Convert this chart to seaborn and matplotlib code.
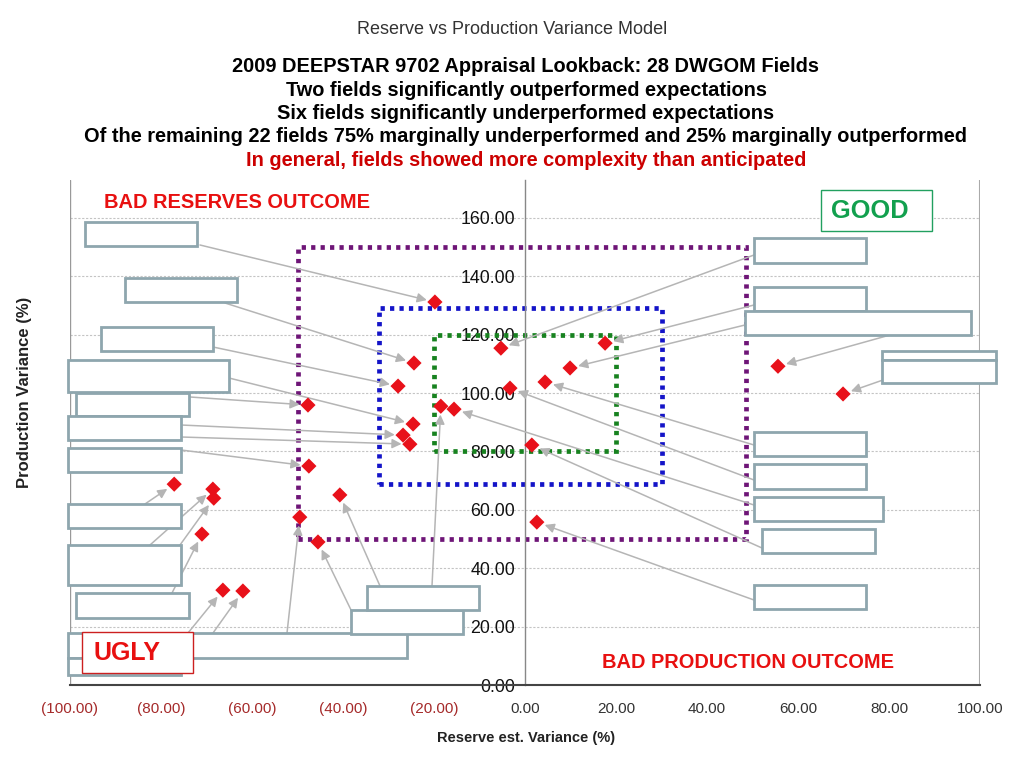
import matplotlib
matplotlib.use("Agg")
import matplotlib.pyplot as plt
from matplotlib.patches import Rectangle
import seaborn as sns
import pandas as pd

# ---------------- data ----------------
reserve_var = [-19.8, -24.4, -27.9, -24.6, -26.8, -25.3, -18.5, -15.6, -5.3, -3.3,
               1.5, 4.4, 9.9, 17.6, 2.6, 55.6, 69.9, -47.7, -47.5, -40.7,
               -49.5, -45.5, -77.1, -68.6, -68.4, -71.0, -66.4, -62.0]
prod_var = [131.2, 110.3, 102.4, 89.4, 85.6, 82.5, 95.5, 94.5, 115.4, 101.7,
            82.2, 103.8, 108.6, 117.1, 55.8, 109.2, 99.7, 95.9, 75.0, 65.1,
            57.5, 49.0, 68.8, 67.1, 64.0, 51.7, 32.5, 32.2]
x_ticks = [-100, -80, -60, -40, -20, 0, 20, 40, 60, 80, 100]
y_ticks = [0, 20, 40, 60, 80, 100, 120, 140, 160]
zones = {"purple": (-50, 48.5, 50, 150), "blue": (-32, 30, 69, 129), "green": (-20, 20, 80, 120)}

title_main = "Reserve vs Production Variance Model"
subtitle_lines = ["2009 DEEPSTAR 9702 Appraisal Lookback: 28 DWGOM Fields",
                  "Two fields significantly outperformed expectations",
                  "Six fields significantly underperformed expectations",
                  "Of the remaining 22 fields 75% marginally underperformed and 25% marginally outperformed"]
subtitle_red = "In general, fields showed more complexity than anticipated"

# ---------------- layout (figure pixels, top-left origin) ----------------
label_boxes = [(85, 222, 197, 246), (125, 278, 237, 302), (101, 327, 213, 351),
               (68, 360, 229, 392), (76, 393, 189, 416), (68, 416, 181, 440),
               (68, 448, 181, 472), (68, 504, 181, 528), (68, 545, 181, 585),
               (76, 593, 189, 618), (68, 633, 407, 658), (68, 658, 181, 675),
               (351, 610, 463, 634), (367, 586, 479, 610),
               (754, 238, 866, 263), (754, 287, 866, 311), (745, 311, 971, 335),
               (882, 351, 996, 360), (882, 360, 996, 383),
               (754, 432, 866, 456), (754, 464, 866, 489), (754, 497, 883, 521),
               (762, 529, 875, 553), (754, 585, 866, 609)]
# (start x px, start y px, point index)
leaders = [(200, 245, 0), (225, 303, 1), (213, 347, 2), (229, 378, 3), (190, 397, 17),
           (181, 425, 4), (181, 437, 5), (181, 450, 18), (145, 504, 22), (150, 545, 23),
           (180, 545, 24), (172, 593, 25), (188, 633, 26), (213, 633, 27), (287, 633, 20),
           (352, 612, 21), (380, 586, 19), (432, 586, 6), (754, 505, 7), (754, 255, 8),
           (754, 480, 9), (762, 548, 10), (754, 445, 11), (745, 325, 12), (754, 305, 13),
           (754, 600, 14), (890, 335, 15), (883, 380, 16)]

W, H = 1024, 768
BOLD = ["Liberation Sans", "DejaVu Sans"]
sns.set_style("white")
plt.rcParams["font.family"] = ["Liberation Sans Narrow", "Liberation Sans", "DejaVu Sans"]

fig = plt.figure(figsize=(10.24, 7.68), dpi=100)
ax = fig.add_axes([70 / W, 1 - 685 / H, 910 / W, 505 / H])

df = pd.DataFrame({"reserve": reserve_var, "production": prod_var})

# grid
for yv in y_ticks[1:]:
    ax.axhline(yv, color="#c4c4c4", lw=0.8, ls=(0, (2, 1.5)), zorder=0)

# zones
zone_colors = {"purple": "#6e1577", "blue": "#1414c8", "green": "#17821f"}
for name, (x0, x1, y0, y1) in zones.items():
    ax.add_patch(Rectangle((x0, y0), x1 - x0, y1 - y0, fill=False,
                           edgecolor=zone_colors[name], lw=3.4,
                           ls=(0, (0.9, 1.1)), zorder=2))

# leaders
for sx, sy, idx in leaders:
    ax.annotate("", xy=(reserve_var[idx], prod_var[idx]), xycoords="data",
                xytext=(sx, H - sy), textcoords="figure pixels",
                arrowprops=dict(arrowstyle="-|>", color="#b5b5b5", lw=1.1,
                                mutation_scale=14, shrinkA=0, shrinkB=6),
                annotation_clip=False, zorder=3)

sns.scatterplot(data=df, x="reserve", y="production", marker="D", color="#e8111a",
                s=60, edgecolor="none", ax=ax, zorder=4, legend=False)

ax.set_xlim(-100, 100)
ax.set_ylim(0, 173)

# spines / axes
for s in ["top", "right"]:
    ax.spines[s].set_visible(False)
ax.spines["left"].set_position(("data", 0))
ax.spines["left"].set_color("#888888")
ax.spines["left"].set_linewidth(1.0)
ax.spines["bottom"].set_color("#444444")
ax.spines["bottom"].set_linewidth(1.5)
ax.axvline(-100, color="#999999", lw=1.0, zorder=1)
ax.axvline(100, color="#aaaaaa", lw=1.5, zorder=1)

ax.set_xticks(x_ticks)
ax.set_xticklabels([f"({abs(v):.2f})" if v < 0 else f"{v:.2f}" for v in x_ticks])
for lbl, v in zip(ax.get_xticklabels(), x_ticks):
    lbl.set_color("#a52a2a" if v < 0 else "#333333")
ax.set_yticks(y_ticks)
ax.set_yticklabels([f"{v:.2f}" for v in y_ticks])
ax.tick_params(axis="x", direction="out", length=6, width=1, color="#444444",
               labelsize=11, pad=6)
ax.tick_params(axis="y", direction="out", length=4, width=1, color="#666666",
               labelsize=12.8, labelcolor="#111111", pad=3)
ax.set_xlabel("")
ax.set_ylabel("")

# label boxes
for (l, t, r, b) in label_boxes:
    fig.add_artist(Rectangle((l / W, 1 - b / H), (r - l) / W, (b - t) / H,
                             transform=fig.transFigure, facecolor="white",
                             edgecolor="#8ea6ae", lw=2.0, zorder=5))

# GOOD / UGLY boxes
fig.add_artist(Rectangle((821 / W, 1 - 231 / H), 111 / W, 41 / H, transform=fig.transFigure,
                         facecolor="white", edgecolor="#22a060", lw=1.0, zorder=6))
fig.text(870 / W, 1 - 211 / H, "GOOD", color="#12a04e", fontsize=18.3, fontweight="bold",
         family=BOLD, ha="center", va="center", zorder=7)
fig.add_artist(Rectangle((82 / W, 1 - 673 / H), 111 / W, 41 / H, transform=fig.transFigure,
                         facecolor="white", edgecolor="#cc2020", lw=1.0, zorder=6))
fig.text(127 / W, 1 - 653 / H, "UGLY", color="#e81010", fontsize=18, fontweight="bold",
         family=BOLD, ha="center", va="center", zorder=7)

fig.text(237 / W, 1 - 203 / H, "BAD RESERVES OUTCOME", color="#e81010", fontsize=14.4,
         fontweight="bold", family=BOLD, ha="center", va="center", zorder=7)
fig.text(748 / W, 1 - 663 / H, "BAD PRODUCTION OUTCOME", color="#e81010", fontsize=14.4,
         fontweight="bold", family=BOLD, ha="center", va="center", zorder=7)

# titles
fig.text(512 / W, 1 - 30 / H, title_main, fontsize=13, color="#333333",
         ha="center", va="center")
for i, line in enumerate(subtitle_lines):
    fig.text(526 / W, 1 - (67 + 23.3 * i) / H, line, fontsize=14.4, fontweight="bold",
             family=BOLD, color="black", ha="center", va="center")
fig.text(526 / W, 1 - 160 / H, subtitle_red, fontsize=14.4, fontweight="bold",
         family=BOLD, color="#cc0000", ha="center", va="center")

# axis titles
fig.text(25 / W, 1 - 392 / H, "Production Variance (%)", rotation=90, fontsize=12,
         fontweight="bold", color="#222222", ha="center", va="center")
fig.text(526 / W, 1 - 738 / H, "Reserve est. Variance (%)", fontsize=10.5,
         fontweight="bold", color="#222222", ha="center", va="center")

fig.savefig("out.png", dpi=100)
